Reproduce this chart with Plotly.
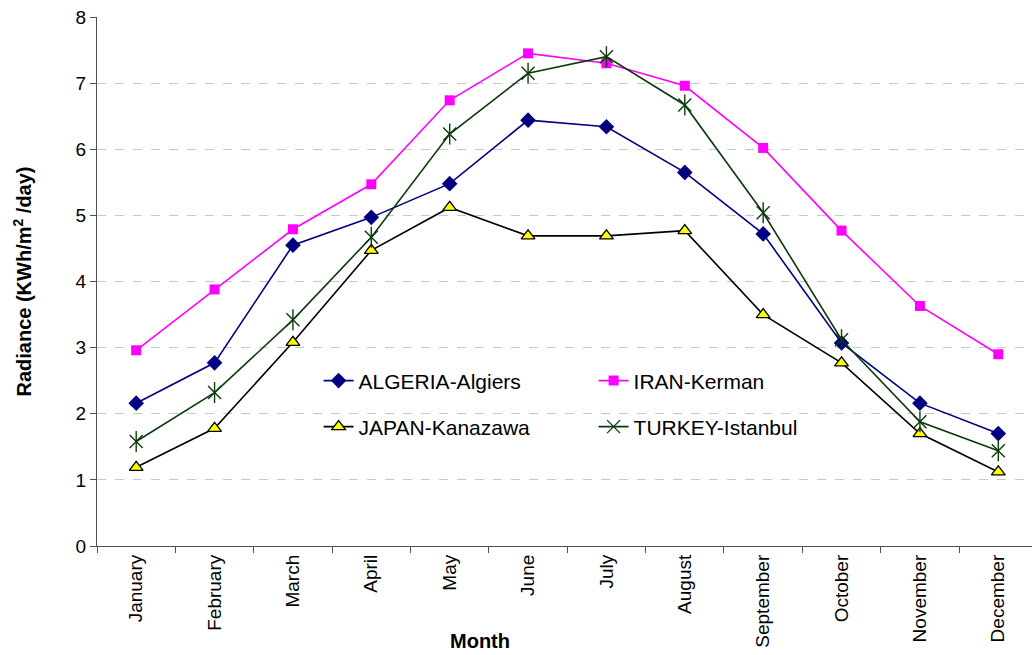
import plotly.graph_objects as go

months = ["January", "February", "March", "April", "May", "June", "July",
          "August", "September", "October", "November", "December"]

algeria_algiers = [2.16, 2.77, 4.55, 4.97, 5.48, 6.44, 6.34, 5.65, 4.72, 3.07, 2.16, 1.70]
iran_kerman = [2.96, 3.88, 4.79, 5.47, 6.74, 7.45, 7.30, 6.96, 6.02, 4.77, 3.63, 2.90]
japan_kanazawa = [1.19, 1.78, 3.08, 4.47, 5.12, 4.69, 4.69, 4.77, 3.50, 2.77, 1.70, 1.12]
turkey_istanbul = [1.58, 2.32, 3.42, 4.67, 6.23, 7.15, 7.40, 6.67, 5.04, 3.12, 1.88, 1.44]

FONT = "Liberation Sans"

fig = go.Figure()

fig.add_trace(go.Scatter(
    x=months, y=algeria_algiers, name="ALGERIA-Algiers", mode="lines+markers",
    line=dict(color="#000080", width=1.6),
    marker=dict(symbol="diamond", size=12, color="#000080"),
    legend="legend",
))
fig.add_trace(go.Scatter(
    x=months, y=iran_kerman, name="IRAN-Kerman", mode="lines+markers",
    line=dict(color="#FF00FF", width=1.6),
    marker=dict(symbol="square", size=10, color="#FF00FF"),
    legend="legend",
))
fig.add_trace(go.Scatter(
    x=months, y=japan_kanazawa, name="JAPAN-Kanazawa", mode="lines+markers",
    line=dict(color="#000000", width=1.6),
    marker=dict(symbol="triangle-up", size=12, color="#FFFF00",
                line=dict(color="#000000", width=1.3)),
    legend="legend2",
))
fig.add_trace(go.Scatter(
    x=months, y=turkey_istanbul, name="TURKEY-Istanbul", mode="lines+markers",
    line=dict(color="#0B3B0B", width=1.6),
    marker=dict(symbol="x-thin-open", size=13, color="#0B3B0B",
                line=dict(color="#0B3B0B", width=1.4)),
    legend="legend2",
))
# vertical stroke completing the star markers
fig.add_trace(go.Scatter(
    x=months, y=turkey_istanbul, mode="markers", showlegend=False, hoverinfo="skip",
    marker=dict(symbol="line-ns-open", size=15, color="#0B3B0B",
                line=dict(color="#0B3B0B", width=1.4)),
))

legend_common = dict(
    orientation="h", xanchor="left", yanchor="middle",
    font=dict(family=FONT, size=21, color="#000000"),
    bgcolor="rgba(0,0,0,0)", entrywidth=230, entrywidthmode="pixels",
)

fig.update_layout(
    width=1032, height=655,
    margin=dict(l=97, r=0, t=17, b=109),
    plot_bgcolor="#FFFFFF", paper_bgcolor="#FFFFFF",
    font=dict(family=FONT, color="#000000"),
    legend=dict(x=0.237, y=0.312, **legend_common),
    legend2=dict(x=0.237, y=0.225, **legend_common),
    xaxis=dict(
        type="category", range=[-0.5, 11.43], tickson="boundaries",
        ticks="outside", ticklen=6, tickcolor="#505050",
        tickangle=-90, tickfont=dict(family=FONT, size=19, color="#000000"),
        showline=True, linecolor="#505050", linewidth=1.3,
        showgrid=False, zeroline=False,
    ),
    yaxis=dict(
        range=[0, 8], dtick=1, ticks="outside", ticklen=6, tickcolor="#505050",
        tickfont=dict(family=FONT, size=19, color="#000000"),
        showline=True, linecolor="#505050", linewidth=1.3,
        showgrid=True, gridcolor="#C8C8C8", griddash="dash", gridwidth=1,
        zeroline=False,
        title=dict(text="<b>Radiance (KWh/m<sup>2</sup> /day)</b>",
                   font=dict(family=FONT, size=20, color="#000000"), standoff=38),
    ),
    annotations=[dict(
        text="<b>Month</b>", xref="paper", yref="paper",
        x=0.41, y=-0.179, xanchor="center", yanchor="middle", showarrow=False,
        font=dict(family=FONT, size=20, color="#000000"),
    )],
)

fig.write_html("out.html")
